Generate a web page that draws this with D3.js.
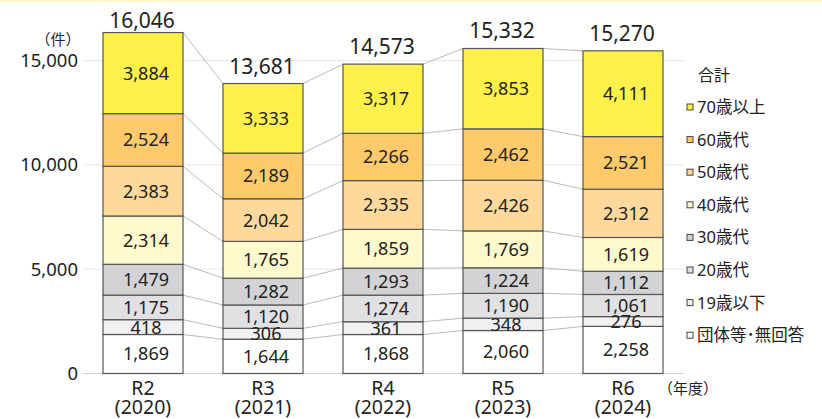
<!DOCTYPE html>
<html lang="ja">
<head>
<meta charset="utf-8">
<script src="https://cdn.jsdelivr.net/npm/d3@7"></script>
<style>
  html, body { margin: 0; padding: 0; background: #fff; }
  svg { display: block; font-family: "Noto Sans", "Noto Sans CJK JP", sans-serif; }
</style>
</head>
<body>
<svg id="chart"></svg>
<script>
// data
const years = ["R2", "R3", "R4", "R5", "R6"];
const yearsAD = ["(2020)", "(2021)", "(2022)", "(2023)", "(2024)"];
const groups = ["団体等･無回答", "19歳以下", "20歳代", "30歳代", "40歳代", "50歳代", "60歳代", "70歳以上"];
const noAnswer = [1869, 1644, 1868, 2060, 2258];
const under19 = [418, 306, 361, 348, 276];
const age20s = [1175, 1120, 1274, 1190, 1061];
const age30s = [1479, 1282, 1293, 1224, 1112];
const age40s = [2314, 1765, 1859, 1769, 1619];
const age50s = [2383, 2042, 2335, 2426, 2312];
const age60s = [2524, 2189, 2266, 2462, 2521];
const age70plus = [3884, 3333, 3317, 3853, 4111];
const yTicks = [0, 5000, 10000, 15000];

const seriesValues = [noAnswer, under19, age20s, age30s, age40s, age50s, age60s, age70plus];
const colors = ["#ffffff", "#f1f1f3", "#e1e1e3", "#d3d3d5", "#fffacd", "#ffd99c", "#ffca6c", "#fff04c"];

const width = 822, height = 419;
const svg = d3.select('svg#chart')
    .attr('width', width)
    .attr('height', height);

const textColor = "#222";

// thin yellow strip on top
svg.append('rect')
    .attr('x', 0).attr('y', 0)
    .attr('width', width).attr('height', 2)
    .attr('fill', '#fff6c4');

const x = d3.scaleBand()
    .domain(years)
    .range([83, 683])
    .paddingInner(1 / 3)
    .paddingOuter(1 / 6);

const y = d3.scaleLinear()
    .domain([0, 15000])
    .range([373.5, 60.5]);

// 19歳以下 is drawn taller than its value so the label fits (as in the original)
const thinBoost = 1.7;

// gridlines
svg.append('g')
    .selectAll('line')
    .data(yTicks)
    .join('line')
    .attr('x1', 83).attr('x2', 684)
    .attr('y1', d => y(d)).attr('y2', d => y(d))
    .attr('stroke', d => d == 0 ? '#cfcfcf' : '#e8e8e8')
    .attr('stroke-width', 1);

// y tick labels
svg.append('g')
    .selectAll('text')
    .data(yTicks)
    .join('text')
    .attr('x', 78)
    .attr('y', d => y(d))
    .attr('dy', '0.36em')
    .attr('text-anchor', 'end')
    .attr('font-size', 18.5)
    .attr('fill', textColor)
    .text(d => d3.format(',')(d));

svg.append('text')
    .attr('x', 58).attr('y', 40)
    .attr('dy', '0.36em')
    .attr('text-anchor', 'middle')
    .attr('font-size', 15)
    .attr('fill', textColor)
    .text('（件）');

// build segments, pixel-stacked
let segments = [];
let tops = years.map(() => []); // boundary y per bar, per series (top edge)
years.forEach((yr, i) => {
    let base = y(0);
    seriesValues.forEach((vals, s) => {
        let h = y(0) - y(vals[i]);
        if (s == 1) h = h * thinBoost;
        segments.push({ yr: yr, i: i, s: s, v: vals[i], y0: base - h, y1: base });
        tops[i].push(base - h);
        base = base - h;
    });
});

// connector lines between neighbouring bars
let links = [];
for (let i = 0; i < years.length - 1; i++) {
    groups.forEach((g, s) => {
        links.push({
            x1: x(years[i]) + x.bandwidth(), y1: tops[i][s],
            x2: x(years[i + 1]), y2: tops[i + 1][s]
        });
    });
}
svg.append('g')
    .selectAll('line')
    .data(links)
    .join('line')
    .attr('x1', d => d.x1).attr('y1', d => d.y1)
    .attr('x2', d => d.x2).attr('y2', d => d.y2)
    .attr('stroke', '#b9b9b9')
    .attr('stroke-width', 1);

// bars
svg.append('g')
    .selectAll('rect')
    .data(segments)
    .join('rect')
    .attr('x', d => x(d.yr))
    .attr('y', d => d.y0)
    .attr('width', x.bandwidth())
    .attr('height', d => d.y1 - d.y0)
    .attr('fill', d => colors[d.s])
    .attr('stroke', '#555')
    .attr('stroke-width', 1.2);

// value labels
svg.append('g')
    .selectAll('text')
    .data(segments)
    .join('text')
    .attr('x', d => x(d.yr) + x.bandwidth() / 2 + 3)
    .attr('y', d => (d.y0 + d.y1) / 2)
    .attr('dy', '0.36em')
    .attr('text-anchor', 'middle')
    .attr('font-size', 18)
    .attr('fill', textColor)
    .text(d => d3.format(',')(d.v));

// totals
const totals = years.map((yr, i) => d3.sum(seriesValues, vals => vals[i]));
svg.append('g')
    .selectAll('text')
    .data(totals)
    .join('text')
    .attr('x', (d, i) => x(years[i]) + x.bandwidth() / 2 - 1)
    .attr('y', (d, i) => Math.max(tops[i][groups.length - 1] - 10, 27.5))
    .attr('text-anchor', 'middle')
    .attr('font-size', 21)
    .attr('fill', textColor)
    .text(d => d3.format(',')(d));

// x labels
const xl = svg.append('g');
xl.selectAll('text.era')
    .data(years)
    .join('text')
    .classed('era', true)
    .attr('x', d => x(d) + x.bandwidth() / 2)
    .attr('y', 387.5)
    .attr('dy', '0.36em')
    .attr('text-anchor', 'middle')
    .attr('font-size', 19.5)
    .attr('fill', textColor)
    .text(d => d);
xl.selectAll('text.ad')
    .data(yearsAD)
    .join('text')
    .classed('ad', true)
    .attr('x', (d, i) => x(years[i]) + x.bandwidth() / 2)
    .attr('y', 407)
    .attr('dy', '0.36em')
    .attr('text-anchor', 'middle')
    .attr('font-size', 19.5)
    .attr('fill', textColor)
    .text(d => d);

svg.append('text')
    .attr('x', 688).attr('y', 389)
    .attr('dy', '0.36em')
    .attr('text-anchor', 'middle')
    .attr('font-size', 15)
    .attr('fill', textColor)
    .text('（年度）');

// legend
const legend = svg.append('g');
legend.append('text')
    .attr('x', 698).attr('y', 75)
    .attr('dy', '0.36em')
    .attr('font-size', 16)
    .attr('fill', textColor)
    .text('合計');

const legendItems = groups.map((g, s) => ({ name: g, s: s })).reverse();
const item = legend.selectAll('g.item')
    .data(legendItems)
    .join('g')
    .classed('item', true)
    .attr('transform', (d, k) => `translate(0,${107 + k * 32.6})`);
item.append('rect')
    .attr('x', 687).attr('y', -3)
    .attr('width', 6).attr('height', 6)
    .attr('fill', d => colors[d.s])
    .attr('stroke', '#444')
    .attr('stroke-width', 1);
item.append('text')
    .attr('x', 697)
    .attr('y', 0)
    .attr('dy', '0.36em')
    .attr('font-size', 16.5)
    .attr('fill', textColor)
    .text(d => d.name);
</script>
</body>
</html>
